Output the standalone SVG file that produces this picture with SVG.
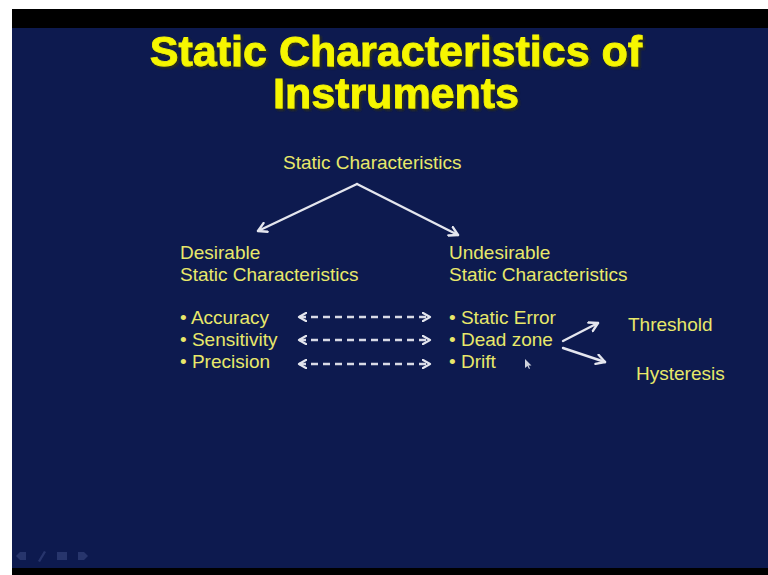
<svg xmlns="http://www.w3.org/2000/svg" width="768" height="575" viewBox="0 0 768 575">
<defs>
<marker id="chev" viewBox="0 0 10 10" refX="8" refY="5" markerWidth="4" markerHeight="4" orient="auto-start-reverse" markerUnits="strokeWidth">
<path d="M1,1 L8,5 L1,9" fill="none" stroke="#e4e6ee" stroke-width="2.2" stroke-linecap="round" stroke-linejoin="round"/>
</marker>
<marker id="chev2" viewBox="0 0 10 10" refX="8" refY="5" markerWidth="5" markerHeight="5" orient="auto-start-reverse" markerUnits="strokeWidth">
<path d="M1,1 L8,5 L1,9" fill="none" stroke="#e4e6ee" stroke-width="2" stroke-linecap="round" stroke-linejoin="round"/>
</marker>
<filter id="shadow" x="-5%" y="-20%" width="110%" height="140%">
<feDropShadow dx="2" dy="2" stdDeviation="1" flood-color="#303010" flood-opacity="0.9"/>
</filter>
</defs>
<style>
.t{font-family:"Liberation Sans",Arial,sans-serif;font-size:19px;fill:#e8e86a}
.title{font-family:"Liberation Sans",Arial,sans-serif;font-size:43px;font-weight:bold;text-anchor:middle;fill:#f6f600;stroke:#f6f600;stroke-width:0.8;filter:url(#shadow)}
.ln{stroke:#e4e6ee;stroke-width:2.4;fill:none;stroke-linecap:round}
.dash{stroke:#d8dae6;stroke-width:2.6;fill:none;stroke-dasharray:7 5}
</style>
<rect x="0" y="0" width="768" height="575" fill="#ffffff"/>
<rect x="12" y="9" width="756" height="566" fill="#000000"/>
<rect x="12" y="28" width="756" height="540" fill="#0d1a4f"/>
<g id="title">
<text class="title" x="396" y="66">Static Characteristics of</text>
<text class="title" x="396" y="108">Instruments</text>
</g>
<g id="root"><text class="t" x="283" y="169">Static Characteristics</text></g>
<g id="desirable"><text class="t" x="180" y="259">Desirable</text><text class="t" x="180" y="281">Static Characteristics</text></g>
<g id="undesirable"><text class="t" x="449" y="259">Undesirable</text><text class="t" x="449" y="281">Static Characteristics</text></g>
<g id="desirable-list">
<text class="t" x="180" y="324">• Accuracy</text>
<text class="t" x="180" y="346">• Sensitivity</text>
<text class="t" x="180" y="368">• Precision</text>
</g>
<g id="undesirable-list">
<text class="t" x="449" y="324">• Static Error</text>
<text class="t" x="449" y="346">• Dead zone</text>
<text class="t" x="449" y="368">• Drift</text>
</g>
<g id="threshold"><text class="t" x="628" y="331">Threshold</text></g>
<g id="hysteresis"><text class="t" x="636" y="380">Hysteresis</text></g>
<g id="connectors">
<line class="ln" x1="357" y1="184" x2="258" y2="231" marker-end="url(#chev2)"/>
<line class="ln" x1="357" y1="184" x2="458" y2="235" marker-end="url(#chev2)"/>
<line class="dash" x1="299" y1="317" x2="430" y2="317" marker-start="url(#chev)" marker-end="url(#chev)"/>
<line class="dash" x1="299" y1="340" x2="430" y2="340" marker-start="url(#chev)" marker-end="url(#chev)"/>
<line class="dash" x1="299" y1="364" x2="430" y2="364" marker-start="url(#chev)" marker-end="url(#chev)"/>
<line class="ln" x1="563" y1="341" x2="598" y2="323" marker-end="url(#chev2)"/>
<line class="ln" x1="563" y1="348" x2="605" y2="362" marker-end="url(#chev2)"/>
</g>
<path d="M525,359 L525,368 L527.5,366 L529,369 L530,368.5 L528.6,365.6 L531.5,365.5 Z" fill="#cfd2dc"/>
<g fill="#2a3870" opacity="0.9">
<path d="M16,556 L20,552 L26,552 L26,560 L20,560 Z"/>
<path d="M38,561 L44,551 L46,552 L40,562 Z"/>
<rect x="57" y="552" width="10" height="8"/>
<path d="M78,552 L84,552 L88,556 L84,560 L78,560 Z"/>
</g>
</svg>
